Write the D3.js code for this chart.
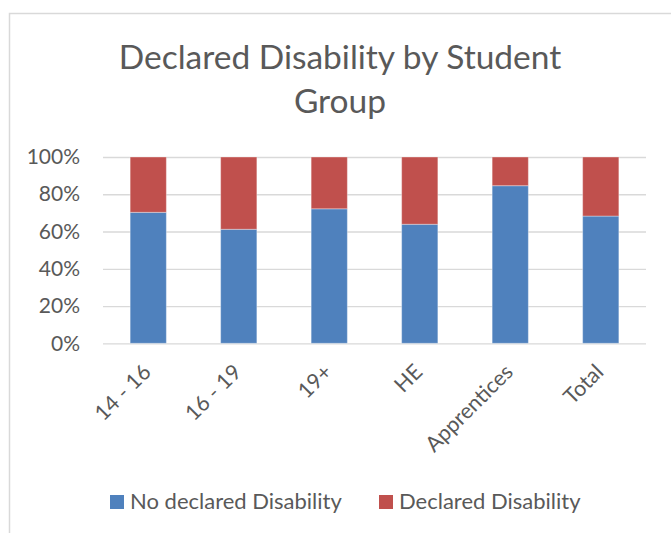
<!DOCTYPE html>
<html>
<head>
<meta charset="utf-8">
<script src="https://cdn.jsdelivr.net/npm/d3@7"></script>
<style>
  html, body { margin: 0; padding: 0; background: #fff; }
  svg { display: block; }
  text { font-family: Lato, "Open Sans", sans-serif; fill: #595959; }
</style>
</head>
<body>
<svg id="chart" width="671" height="533"></svg>
<script>
// Student groups and share of each group (percent)
const categories = ["14 - 16", "16 - 19", "19+", "HE", "Apprentices", "Total"];
const noDeclared = [70.3, 61.2, 72.2, 63.9, 84.6, 68.3];
const declared   = [29.7, 38.8, 27.8, 36.1, 15.4, 31.7];
const seriesNames = ["No declared Disability", "Declared Disability"];
const seriesColors = ["#4F81BD", "#C0504D"];
const yTicks = [0, 20, 40, 60, 80, 100];
const titleLines = ["Declared Disability by Student", "Group"];

const svg = d3.select("#chart");
const plot = { left: 103, right: 646, top: 157, bottom: 343.3 };

// Outer chart frame
svg.append("rect")
  .attr("x", 9.5).attr("y", 13.5)
  .attr("width", 720).attr("height", 600)
  .attr("fill", "#fff")
  .attr("stroke", "#d9d9d9").attr("stroke-width", 1.5);

// Title
const title = svg.append("text")
  .attr("text-anchor", "middle")
  .style("font-size", "33.5px");
titleLines.forEach((t, i) => {
  title.append("tspan")
    .attr("x", 340)
    .attr("y", 69 + i * 44)
    .text(t);
});

const x = d3.scaleBand()
  .domain(categories)
  .range([plot.left, plot.right])
  .paddingInner(0.6)
  .paddingOuter(0.3);

const y = d3.scaleLinear()
  .domain([0, 100])
  .range([plot.bottom, plot.top]);

// Gridlines and y axis labels
const yAxis = d3.axisLeft(y)
  .tickValues(yTicks)
  .tickFormat(d => d + "%")
  .tickSize(-(plot.right - plot.left))
  .tickPadding(23);

const gy = svg.append("g")
  .attr("transform", `translate(${plot.left},0)`)
  .call(yAxis);
gy.select(".domain").remove();
gy.selectAll(".tick line")
  .attr("stroke", "#d9d9d9")
  .attr("stroke-width", 1.3);
gy.selectAll(".tick text")
  .style("font-size", "21px")
  .style("font-family", "Lato, 'Open Sans', sans-serif")
  .attr("fill", "#595959");

// Stacked bars
const rows = categories.map((c, i) => ({ cat: c, a: noDeclared[i], b: declared[i] }));
const stack = d3.stack().keys(["a", "b"])(rows);

svg.append("g").selectAll("g")
  .data(stack)
  .join("g")
  .attr("fill", (d, i) => seriesColors[i])
  .selectAll("rect")
  .data(d => d)
  .join("rect")
  .attr("x", d => x(d.data.cat))
  .attr("width", x.bandwidth())
  .attr("y", d => y(d[1]))
  .attr("height", d => y(d[0]) - y(d[1]))
  .attr("stroke", "#ffffff")
  .attr("stroke-opacity", 0.35)
  .attr("stroke-width", 1);

// Category labels, rotated
const xAxis = d3.axisBottom(x).tickSize(0).tickPadding(0);
const gx = svg.append("g")
  .attr("transform", `translate(0,${plot.bottom})`)
  .call(xAxis);
gx.select(".domain").remove();
gx.selectAll(".tick text")
  .style("font-size", "21.5px")
  .style("font-family", "Lato, 'Open Sans', sans-serif")
  .attr("fill", "#595959")
  .attr("text-anchor", "end")
  .attr("dy", null)
  .attr("y", 0)
  .attr("transform", "translate(4,30) rotate(-45)");

// Legend
const legendX = [110, 379];
const legend = svg.append("g");
seriesNames.forEach((name, i) => {
  legend.append("rect")
    .attr("x", legendX[i]).attr("y", 495)
    .attr("width", 14).attr("height", 14)
    .attr("fill", seriesColors[i]);
  legend.append("text")
    .attr("x", legendX[i] + 20).attr("y", 509)
    .style("font-size", "22px")
    .text(name);
});
</script>
</body>
</html>
